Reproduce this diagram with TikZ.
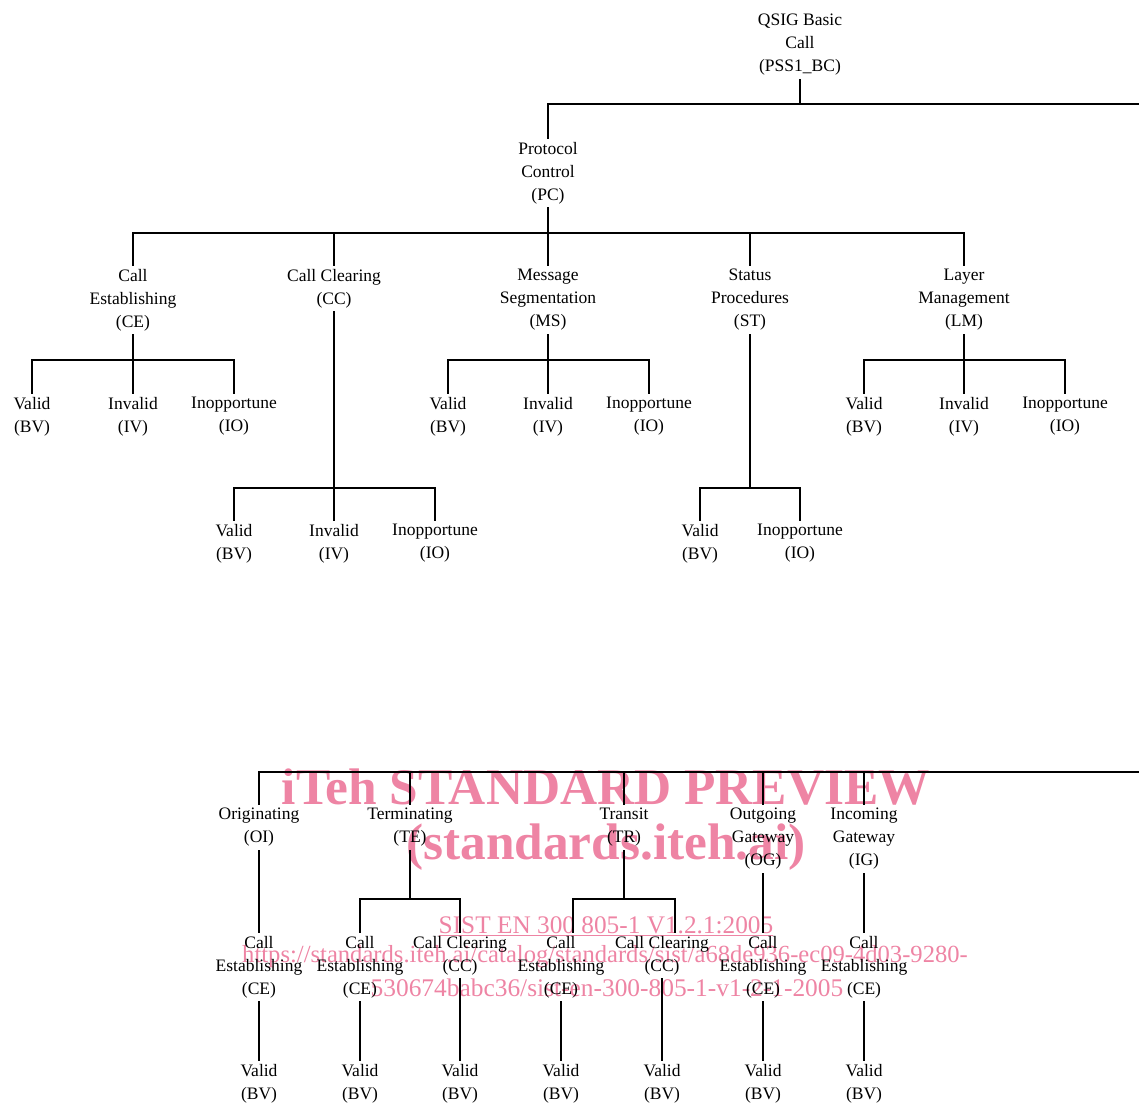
\documentclass[tikz,border=0pt]{standalone}
\usepackage{fontspec}
\setmainfont{Liberation Serif}
\definecolor{wmpink}{RGB}{238,132,164}
\begin{document}
\begin{tikzpicture}[x=1pt, y=-1pt, line width=1.1pt,
  every node/.style={align=center, inner sep=3pt, font=\fontsize{17.5}{23}\selectfont},
  wmark/.style={text=wmpink, inner sep=0pt}]
  \useasboundingbox (0,0) rectangle (1139,1102);

  % watermark, behind the tree
  \node[wmark, font=\bfseries\fontsize{51.4}{51.4}\selectfont] (wmtitle) at (606,787) {iTeh STANDARD PREVIEW};
  \node[wmark, font=\bfseries\fontsize{51.4}{51.4}\selectfont] (wmsite) at (606,847) {(standards.iteh.ai)};
  \node[wmark, font=\fontsize{25.3}{25.3}\selectfont] (wmdoc) at (606,926) {\underline{SIST EN 300 805-1 V1.2.1:2005}};
  \node[wmark, font=\fontsize{24.6}{24.6}\selectfont] (wmurla) at (605,957) {https://standards.iteh.ai/catalog/standards/sist/a68de936-ec09-4d03-9280-};
  \node[wmark, font=\fontsize{25.4}{25.4}\selectfont] (wmurlb) at (607,988) {530674babc36/sist-en-300-805-1-v1-2-1-2005};

  % upper tree
  \node (bc) at (800,45) {QSIG Basic\\Call\\(PSS1\_BC)};
  \node (pc) at (548,173) {Protocol\\Control\\(PC)};
  \node (ce) at (133,300) {Call\\Establishing\\(CE)};
  \node (cc) at (334,288.5) {Call Clearing\\(CC)};
  \node (ms) at (548,300) {Message\\Segmentation\\(MS)};
  \node (st) at (750,300) {Status\\Procedures\\(ST)};
  \node (lm) at (964,300) {Layer\\Management\\(LM)};

  \node (ceBV) at (32,416.5) {Valid\\(BV)};
  \node (ceIV) at (133,416.5) {Invalid\\(IV)};
  \node (ceIO) at (234,416.5) {Inopportune\\(IO)};
  \node (msBV) at (448,416.5) {Valid\\(BV)};
  \node (msIV) at (548,416.5) {Invalid\\(IV)};
  \node (msIO) at (649,416.5) {Inopportune\\(IO)};
  \node (lmBV) at (864,416.5) {Valid\\(BV)};
  \node (lmIV) at (964,416.5) {Invalid\\(IV)};
  \node (lmIO) at (1065,416.5) {Inopportune\\(IO)};
  \node (ccBV) at (234,543.5) {Valid\\(BV)};
  \node (ccIV) at (334,543.5) {Invalid\\(IV)};
  \node (ccIO) at (435,543.5) {Inopportune\\(IO)};
  \node (stBV) at (700,543.5) {Valid\\(BV)};
  \node (stIO) at (800,543.5) {Inopportune\\(IO)};

  \coordinate (bcend) at (1139,104);
  \coordinate (pcbar) at (548,233);
  \coordinate (cebar) at (133,360);
  \coordinate (msbar) at (548,360);
  \coordinate (lmbar) at (964,360);
  \coordinate (ccbar) at (334,488);
  \coordinate (stbar) at (750,488);

  \draw (bc) -- (bc |- bcend);
  \draw (pc) |- (bcend);
  \draw (pc) -- (pcbar);
  \draw (ce) |- (pcbar) -| (lm);
  \draw (cc) -- (cc |- pcbar);
  \draw (ms) -- (pcbar);
  \draw (st) -- (st |- pcbar);

  \draw (ce) -- (ceIV);
  \draw (ceBV) |- (cebar) -| (ceIO);
  \draw (ms) -- (msIV);
  \draw (msBV) |- (msbar) -| (msIO);
  \draw (lm) -- (lmIV);
  \draw (lmBV) |- (lmbar) -| (lmIO);
  \draw (cc) -- (ccIV);
  \draw (ccBV) |- (ccbar) -| (ccIO);
  \draw (st) -- (stbar);
  \draw (stBV) |- (stbar) -| (stIO);

  % lower tree
  \node (oi) at (259,827.5) {Originating\\(OI)};
  \node (te) at (410,827.5) {Terminating\\(TE)};
  \node (tr) at (624,827.5) {Transit\\(TR)};
  \node (og) at (763,839) {Outgoing\\Gateway\\(OG)};
  \node (ig) at (864,839) {Incoming\\Gateway\\(IG)};

  \node (oiCE) at (259,967) {Call\\Establishing\\(CE)};
  \node (teCE) at (360,967) {Call\\Establishing\\(CE)};
  \node (teCC) at (460,955.5) {Call Clearing\\(CC)};
  \node (trCE) at (561,967) {Call\\Establishing\\(CE)};
  \node (trCC) at (662,955.5) {Call Clearing\\(CC)};
  \node (ogCE) at (763,967) {Call\\Establishing\\(CE)};
  \node (igCE) at (864,967) {Call\\Establishing\\(CE)};

  \node (oiBV) at (259,1083.5) {Valid\\(BV)};
  \node (teCEBV) at (360,1083.5) {Valid\\(BV)};
  \node (teCCBV) at (460,1083.5) {Valid\\(BV)};
  \node (trCEBV) at (561,1083.5) {Valid\\(BV)};
  \node (trCCBV) at (662,1083.5) {Valid\\(BV)};
  \node (ogBV) at (763,1083.5) {Valid\\(BV)};
  \node (igBV) at (864,1083.5) {Valid\\(BV)};

  \coordinate (lowend) at (1139,772);
  \coordinate (tebar) at (410,899);
  \coordinate (trbar) at (624,899);

  \draw (oi) |- (lowend);
  \draw (te) -- (te |- lowend);
  \draw (tr) -- (tr |- lowend);
  \draw (og) -- (og |- lowend);
  \draw (ig) -- (ig |- lowend);

  \draw (oi) -- (oiCE);
  \draw (te) -- (tebar);
  \draw (teCE) |- (tebar) -| (teCC);
  \draw (tr) -- (trbar);
  \draw ([xshift=12pt]trCE.north) |- (trbar) -| ([xshift=13pt]trCC.north);
  \draw (og) -- (ogCE);
  \draw (ig) -- (igCE);

  \draw (oiCE) -- (oiBV);
  \draw (teCE) -- (teCEBV);
  \draw (teCC) -- (teCCBV);
  \draw (trCE) -- (trCEBV);
  \draw (trCC) -- (trCCBV);
  \draw (ogCE) -- (ogBV);
  \draw (igCE) -- (igBV);
\end{tikzpicture}
\end{document}
